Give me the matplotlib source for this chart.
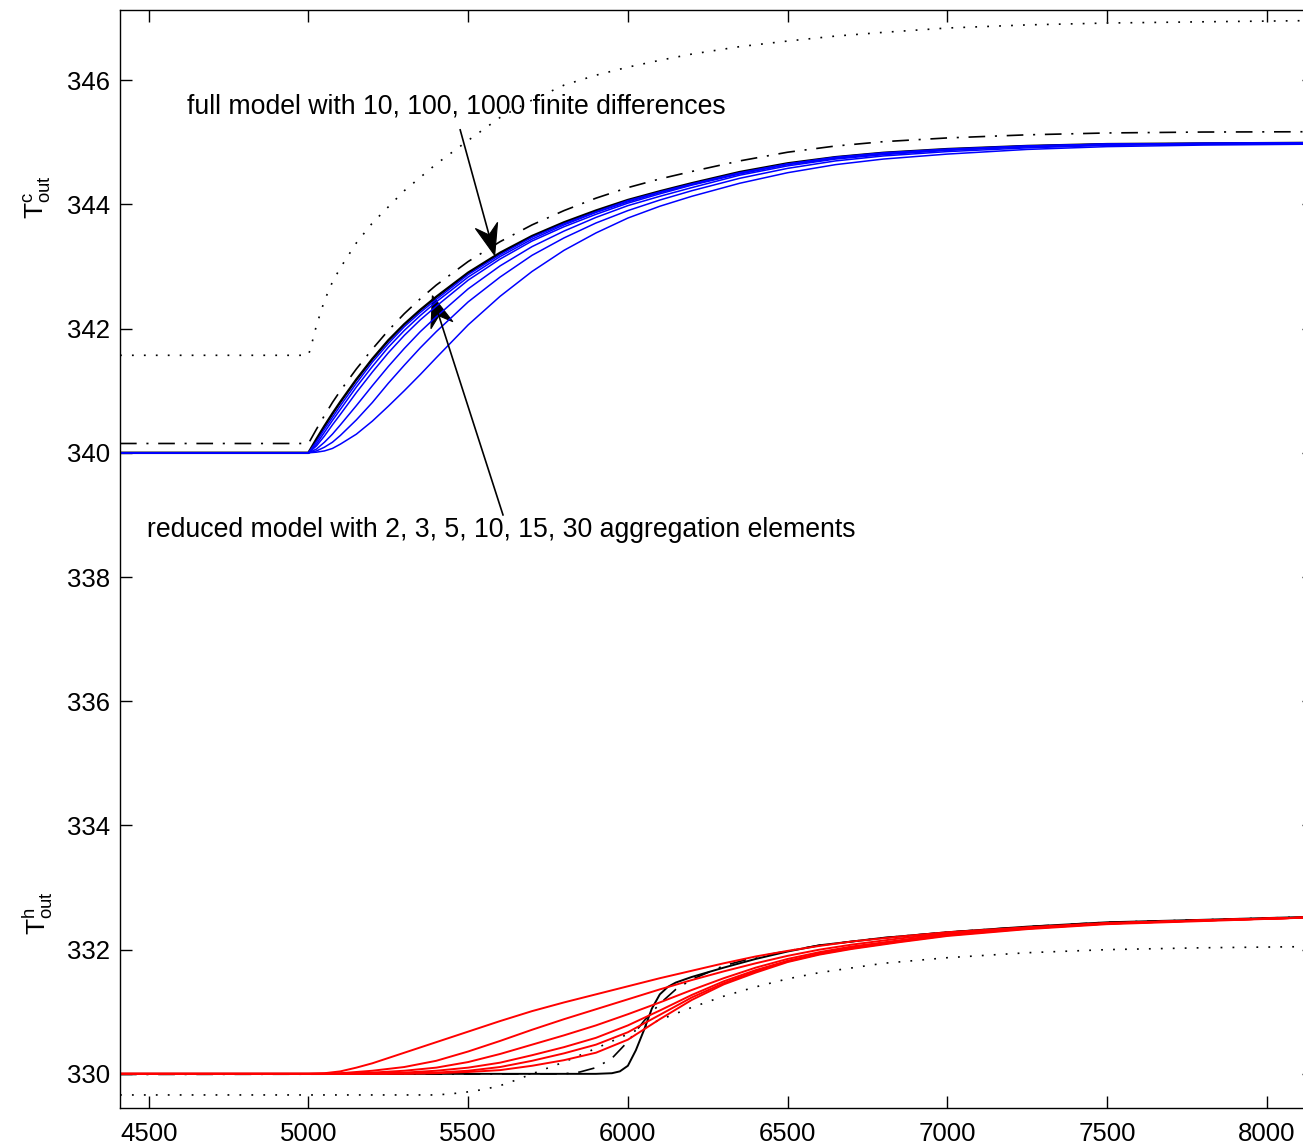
import matplotlib
matplotlib.use("Agg")
import numpy as np
import matplotlib.pyplot as plt
from matplotlib.patches import Polygon
from matplotlib.lines import Line2D
from matplotlib.transforms import IdentityTransform

plt.rcParams['font.family'] = ['Liberation Sans', 'DejaVu Sans']
plt.rcParams['mathtext.fontset'] = 'custom'
plt.rcParams['mathtext.rm'] = 'Liberation Sans'
plt.rcParams['mathtext.it'] = 'Liberation Sans'
plt.rcParams['lines.scale_dashes'] = False

# ---- cold side outlet T^c_out (top group) ----
t_top = [4410, 5000, 5025, 5050, 5075, 5100, 5150, 5200, 5250, 5300, 5350, 5400, 5500, 5600,
         5700, 5800, 5900, 6000, 6100, 6200, 6350, 6500, 6650, 6800, 7000, 7250, 7500, 7800, 8150]
full_c = [340.00, 340.00, 340.22, 340.43, 340.63, 340.82, 341.18, 341.51, 341.81, 342.07, 342.30,
          342.51, 342.90, 343.22, 343.49, 343.71, 343.90, 344.07, 344.21, 344.34, 344.52, 344.66,
          344.76, 344.83, 344.89, 344.94, 344.97, 344.98, 344.99]
agg30_c = [340.00, 340.00, 340.18, 340.38, 340.57, 340.76, 341.12, 341.46, 341.76, 342.03, 342.26,
           342.47, 342.87, 343.19, 343.47, 343.69, 343.88, 344.06, 344.20, 344.33, 344.51, 344.65,
           344.76, 344.83, 344.89, 344.94, 344.97, 344.98, 344.99]
agg15_c = [340.00, 340.00, 340.14, 340.33, 340.52, 340.70, 341.06, 341.39, 341.70, 341.97, 342.21,
           342.43, 342.83, 343.16, 343.44, 343.67, 343.87, 344.04, 344.19, 344.32, 344.50, 344.65,
           344.75, 344.82, 344.88, 344.94, 344.97, 344.98, 344.99]
agg10_c = [340.00, 340.00, 340.11, 340.27, 340.45, 340.62, 340.97, 341.30, 341.61, 341.89, 342.14,
           342.36, 342.78, 343.12, 343.41, 343.64, 343.84, 344.02, 344.17, 344.31, 344.49, 344.64,
           344.74, 344.82, 344.88, 344.93, 344.97, 344.98, 344.99]
agg5_c = [340.00, 340.00, 340.06, 340.17, 340.30, 340.45, 340.76, 341.08, 341.39, 341.68, 341.95,
          342.19, 342.64, 343.01, 343.32, 343.57, 343.79, 343.98, 344.13, 344.27, 344.47, 344.62,
          344.73, 344.80, 344.87, 344.93, 344.96, 344.98, 344.99]
agg3_c = [340.00, 340.00, 340.03, 340.09, 340.17, 340.28, 340.53, 340.81, 341.12, 341.41, 341.69,
          341.95, 342.43, 342.83, 343.18, 343.46, 343.70, 343.90, 344.07, 344.22, 344.42, 344.58,
          344.70, 344.78, 344.85, 344.91, 344.95, 344.97, 344.98]
agg2_c = [340.00, 340.00, 340.01, 340.03, 340.07, 340.14, 340.30, 340.51, 340.75, 341.00, 341.26,
          341.53, 342.06, 342.52, 342.92, 343.26, 343.54, 343.78, 343.97, 344.13, 344.34, 344.51,
          344.64, 344.73, 344.81, 344.885, 344.93, 344.955, 344.97]
dashdot_c = [340.15, 340.15, 340.38, 340.60, 340.81, 341.00, 341.35, 341.67, 341.97, 342.24, 342.48,
             342.70, 343.08, 343.40, 343.67, 343.90, 344.10, 344.27, 344.41, 344.53, 344.70, 344.84,
             344.94, 345.01, 345.07, 345.12, 345.15, 345.165, 345.17]

t_dot_c = [4410, 5000, 5010, 5025, 5050, 5075, 5100, 5150, 5200, 5250, 5300, 5400, 5500, 5600,
           5700, 5800, 5900, 6000, 6100, 6200, 6350, 6500, 6650, 6800, 7000, 7250, 7500, 7800, 8150]
dotted_c = [341.57, 341.57, 341.75, 342.05, 342.45, 342.75, 342.98, 343.38, 343.70, 343.96, 344.22,
            344.65, 345.03, 345.40, 345.68, 345.92, 346.08, 346.21, 346.32, 346.42, 346.54, 346.63,
            346.71, 346.77, 346.84, 346.89, 346.92, 346.94, 346.96]

# ---- hot side outlet T^h_out (bottom group) ----
t_bot = [4410, 5000, 5050, 5100, 5150, 5200, 5300, 5400, 5500, 5600, 5700, 5800, 5900, 6000,
         6100, 6200, 6300, 6400, 6500, 6600, 6700, 6850, 7000, 7250, 7500, 7800, 8150]
agg2_h = [330.00, 330.00, 330.01, 330.04, 330.10, 330.17, 330.34, 330.51, 330.68, 330.85, 331.01,
          331.15, 331.28, 331.41, 331.54, 331.66, 331.78, 331.89, 331.98, 332.06, 332.13, 332.21,
          332.28, 332.36, 332.43, 332.47, 332.52]
agg3_h = [330.00, 330.00, 330.00, 330.01, 330.03, 330.05, 330.11, 330.21, 330.36, 330.53, 330.71,
          330.88, 331.04, 331.20, 331.36, 331.51, 331.65, 331.78, 331.90, 332.00, 332.08, 332.18,
          332.26, 332.35, 332.42, 332.47, 332.52]
agg5_h = [330.00, 330.00, 330.00, 330.00, 330.01, 330.02, 330.05, 330.10, 330.19, 330.32, 330.47,
          330.62, 330.78, 330.96, 331.15, 331.35, 331.54, 331.71, 331.85, 331.96, 332.05, 332.15,
          332.25, 332.35, 332.42, 332.47, 332.52]
agg10_h = [330.00, 330.00, 330.00, 330.00, 330.00, 330.01, 330.02, 330.05, 330.10, 330.18, 330.30,
           330.43, 330.58, 330.78, 331.02, 331.27, 331.49, 331.67, 331.82, 331.94, 332.03, 332.14,
           332.24, 332.34, 332.42, 332.47, 332.52]
agg15_h = [330.00, 330.00, 330.00, 330.00, 330.00, 330.00, 330.01, 330.02, 330.05, 330.11, 330.21,
           330.33, 330.47, 330.67, 330.95, 331.23, 331.46, 331.65, 331.81, 331.93, 332.02, 332.13,
           332.23, 332.34, 332.42, 332.47, 332.52]
agg30_h = [330.00, 330.00, 330.00, 330.00, 330.00, 330.00, 330.00, 330.01, 330.03, 330.06, 330.13,
           330.22, 330.34, 330.55, 330.88, 331.19, 331.44, 331.63, 331.80, 331.92, 332.01, 332.12,
           332.22, 332.33, 332.41, 332.46, 332.52]

t_full_h = [4410, 5000, 5900, 5950, 5975, 6000, 6025, 6050, 6075, 6100, 6125, 6150,
            6200, 6300, 6400, 6500, 6600, 6800, 7000, 7250, 7500, 7800, 8150]
full_h = [330.00, 330.00, 330.00, 330.01, 330.04, 330.13, 330.38, 330.70, 331.05, 331.28, 331.40, 331.47,
          331.56, 331.71, 331.85, 331.97, 332.07, 332.19, 332.28, 332.37, 332.44, 332.48, 332.53]

t_dd_h = [4410, 5800, 5850, 5900, 5950, 6000, 6050, 6100, 6150, 6200, 6300, 6400,
          6500, 6600, 6800, 7000, 7250, 7500, 7800, 8150]
dashdot_h = [329.99, 330.00, 330.03, 330.10, 330.25, 330.52, 330.85, 331.13, 331.36, 331.52, 331.74, 331.88,
             331.98, 332.07, 332.19, 332.28, 332.37, 332.44, 332.48, 332.53]

t_dot_h = [4410, 5400, 5450, 5500, 5550, 5600, 5650, 5700, 5800, 5900, 6000, 6100,
           6200, 6300, 6400, 6500, 6600, 6800, 7000, 7250, 7500, 7800, 8150]
dotted_h = [329.66, 329.66, 329.68, 329.71, 329.75, 329.81, 329.90, 330.00, 330.19, 330.41, 330.64, 330.87,
            331.07, 331.25, 331.40, 331.53, 331.63, 331.78, 331.87, 331.95, 332.00, 332.03, 332.05]

xticks = [4500, 5000, 5500, 6000, 6500, 7000, 7500, 8000]
yticks = [330, 332, 334, 336, 338, 340, 342, 344, 346]


def matlab_arrow(ax, tail, tip, length=31, half_width=11.5, notch=0.68):
    # arrow with notched (MATLAB style) head, sized in pixels
    p0 = ax.transData.transform(tail)
    p1 = ax.transData.transform(tip)
    u = (p1 - p0) / np.hypot(*(p1 - p0))
    n = np.array([-u[1], u[0]])
    head = [p1, p1 - length * u + half_width * n, p1 - notch * length * u,
            p1 - length * u - half_width * n]
    end = p1 - 0.6 * length * u
    ax.add_line(Line2D([p0[0], end[0]], [p0[1], end[1]],
                       transform=IdentityTransform(), color='black', lw=1.2))
    ax.add_patch(Polygon(head, closed=True, transform=IdentityTransform(),
                         facecolor='black', edgecolor='black', lw=0.8))


fig = plt.figure(figsize=(13.03, 11.48), dpi=100)
ax = fig.add_axes([120 / 1303, 40 / 1148, 1194 / 1303, 1098 / 1148])

dot_style = (0, (1.3, 7.3))
dd_style = (0, (12, 7, 1.5, 7))

# top
ax.plot(t_dot_c, dotted_c, color='black', lw=1.2, linestyle=dot_style)
ax.plot(t_top, dashdot_c, color='black', lw=1.2, linestyle=dd_style)
ax.plot(t_top, full_c, color='black', lw=1.8)
for ys in [agg2_c, agg3_c, agg5_c, agg10_c, agg15_c, agg30_c]:
    ax.plot(t_top, ys, color='#0000ff', lw=1.1)

# bottom
ax.plot(t_dot_h, dotted_h, color='black', lw=1.2, linestyle=dot_style)
ax.plot(t_dd_h, dashdot_h, color='black', lw=1.2, linestyle=dd_style)
ax.plot(t_full_h, full_h, color='black', lw=1.4)
for ys in [agg2_h, agg3_h, agg5_h, agg10_h, agg15_h, agg30_h]:
    ax.plot(t_bot, ys, color='#ff0000', lw=1.4)

ax.set_xlim(4410, 8148)
ax.set_ylim(329.45, 347.13)
ax.set_xticks(xticks)
ax.set_yticks(yticks)
ax.tick_params(direction='in', length=8.5, width=1.0, top=True, right=True, labelsize=18.5)
ax.tick_params(axis='x', pad=10)
ax.tick_params(axis='y', pad=7)
for s in ax.spines.values():
    s.set_linewidth(1.0)

ax.text(-0.069, 0.83, r'$\mathrm{T}^{\mathrm{c}}_{\mathrm{out}}$', transform=ax.transAxes,
        rotation=90, fontsize=19, ha='center', va='center')
ax.text(-0.069, 0.178, r'$\mathrm{T}^{\mathrm{h}}_{\mathrm{out}}$', transform=ax.transAxes,
        rotation=90, fontsize=19, ha='center', va='center')

# annotations
ax.text(4620, 345.58, 'full model with 10, 100, 1000 finite differences',
        fontsize=19.2, ha='left', va='center')
matlab_arrow(ax, (5475, 345.20), (5583, 343.18))
ax.text(4495, 338.76, 'reduced model with 2, 3, 5, 10, 15, 30 aggregation elements',
        fontsize=19.2, ha='left', va='center')
matlab_arrow(ax, (5609, 339.0), (5388, 342.53))

fig.savefig('out.png', dpi=100)
